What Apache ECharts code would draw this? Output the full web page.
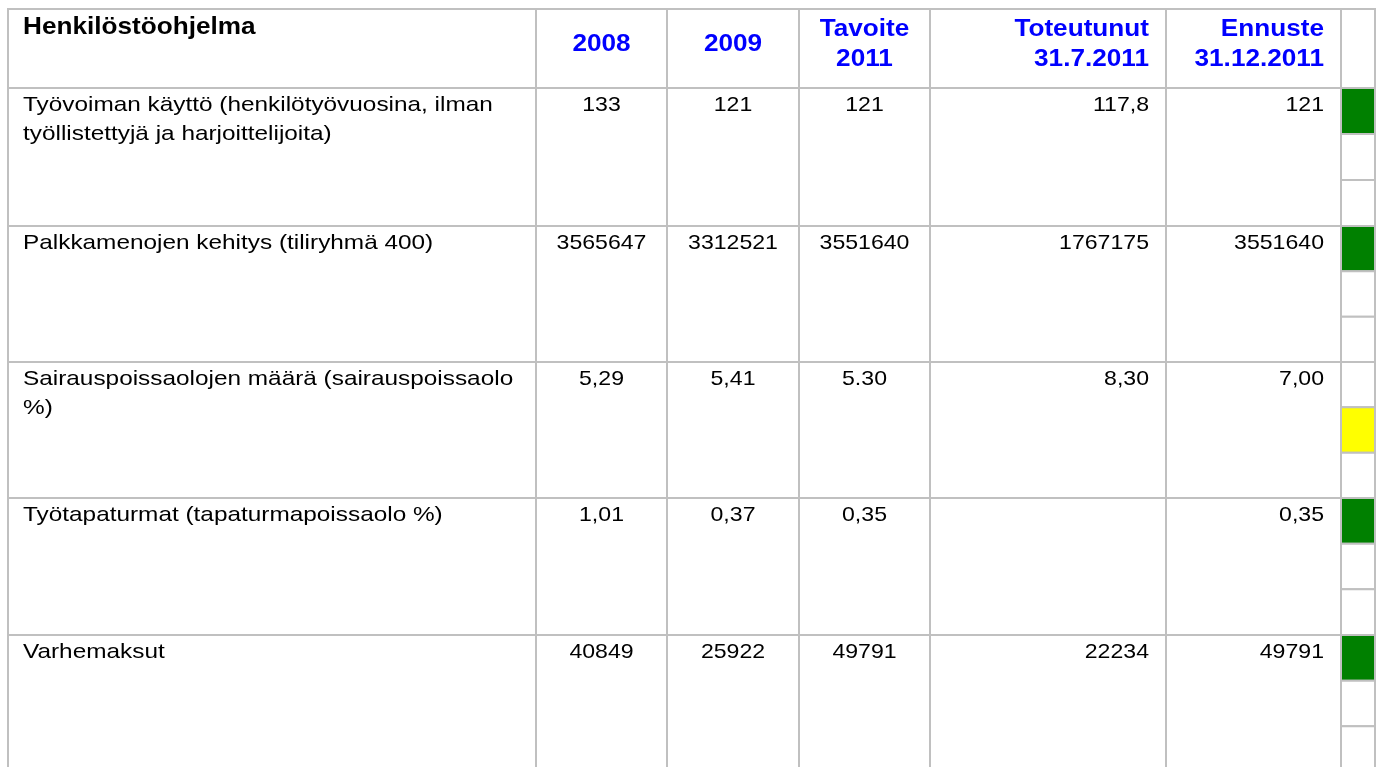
<!DOCTYPE html>
<html>
<head>
<meta charset="utf-8">
<title>Henkilöstöohjelma</title>
<script src="https://cdn.jsdelivr.net/npm/echarts@6.0.0/dist/echarts.min.js"></script>
<style>
  html, body { margin: 0; padding: 0; background: #fff; }
  #main { width: 1381px; height: 767px; }
</style>
</head>
<body>
<div id="main"></div>
<script>
// Taulukon sisältö
const headers = ['Henkilöstöohjelma', '2008', '2009', 'Tavoite\n2011', 'Toteutunut\n31.7.2011', 'Ennuste\n31.12.2011'];
const indicators = [
  'Työvoiman käyttö (henkilötyövuosina, ilman\ntyöllistettyjä ja harjoittelijoita)',
  'Palkkamenojen kehitys (tiliryhmä 400)',
  'Sairauspoissaolojen määrä (sairauspoissaolo\n%)',
  'Työtapaturmat (tapaturmapoissaolo %)',
  'Varhemaksut'
];
const values2008 = ['133', '3565647', '5,29', '1,01', '40849'];
const values2009 = ['121', '3312521', '5,41', '0,37', '25922'];
const target2011 = ['121', '3551640', '5.30', '0,35', '49791'];
const actual2011 = ['117,8', '1767175', '8,30', '', '22234'];
const forecast2011 = ['121', '3551640', '7,00', '0,35', '49791'];
// liikennevalo: 0 = vihreä, 1 = keltainen, 2 = punainen
const statusLevel = [0, 0, 1, 0, 0];
const statusColors = ['#008000', '#ffff00', '#ff0000'];

// Asettelu (gridin yksiköissä)
const colEdges = [0, 528, 659, 791, 922, 1158, 1333, 1367];
const rowEdges = [0, 79, 217, 353, 489, 626, 763];
const colAlign = ['left', 'center', 'center', 'center', 'right', 'right'];
const padLeft = 15, padRight = 17;
const lineColor = '#c0c0c0';
const fontFamily = '"Liberation Sans", Arial, sans-serif';

const columns = [indicators, values2008, values2009, target2011, actual2011, forecast2011];

function cellBox(api, c, r) {
  const p0 = api.coord([colEdges[c], rowEdges[r]]);
  const p1 = api.coord([colEdges[c + 1], rowEdges[r + 1]]);
  return { x: p0[0], y: p0[1], width: p1[0] - p0[0], height: p1[1] - p0[1] };
}

const cellData = [];
for (let r = 0; r < rowEdges.length - 1; r++) {
  for (let c = 0; c < colEdges.length - 1; c++) cellData.push([c, r]);
}

const statusData = [];
statusLevel.forEach(function (lvl, i) {
  for (let k = 0; k < 3; k++) statusData.push([i, k, lvl === k ? 1 : 0]);
});

const textData = [];
for (let r = 0; r < rowEdges.length - 1; r++) {
  for (let c = 0; c < columns.length; c++) textData.push([c, r]);
}

const chart = echarts.init(document.getElementById('main'));

const option = {
  animation: false,
  grid: { left: 8, top: 9, width: 1367, height: 763, outerBoundsMode: 'none' },
  xAxis: { type: 'value', min: 0, max: 1367, show: false },
  yAxis: { type: 'value', min: 0, max: 763, inverse: true, show: false },
  series: [
    {
      // solut
      type: 'custom',
      data: cellData,
      silent: true,
      renderItem: function (params, api) {
        const b = cellBox(api, api.value(0), api.value(1));
        return {
          type: 'rect',
          shape: b,
          style: { fill: '#fff', stroke: lineColor, lineWidth: 2 }
        };
      }
    },
    {
      // tilasarake, kolme osasolua per rivi
      type: 'custom',
      data: statusData,
      silent: true,
      renderItem: function (params, api) {
        const row = api.value(0), k = api.value(1);
        const b = cellBox(api, colEdges.length - 2, row + 1);
        const h = b.height / 3;
        return {
          type: 'rect',
          shape: { x: b.x, y: b.y + k * h, width: b.width, height: h },
          style: {
            fill: api.value(2) ? statusColors[statusLevel[row]] : '#fff',
            stroke: lineColor,
            lineWidth: 2
          }
        };
      }
    },
    {
      // tekstit
      type: 'custom',
      data: textData,
      silent: true,
      renderItem: function (params, api) {
        const c = api.value(0), r = api.value(1);
        const txt = r === 0 ? headers[c] : columns[c][r - 1];
        if (!txt) return null;
        const b = cellBox(api, c, r);
        const align = colAlign[c];
        let x = b.x + b.width / 2;
        if (align === 'left') x = b.x + padLeft;
        if (align === 'right') x = b.x + b.width - padRight;
        let y, vAlign, lh, size, weight, color, sx;
        if (r === 0) {
          size = 24; weight = 'bold'; lh = 30; sx = 1.09;
          color = c === 0 ? '#000' : '#0000ff';
          if (c === 0) { y = b.y + 3; vAlign = 'top'; }
          else { y = b.y + 35; vAlign = 'middle'; }
        } else {
          size = 21; weight = 'normal'; lh = 29; sx = c === 0 ? 1.16 : 1.1;
          color = '#000';
          y = b.y + 3; vAlign = 'top';
        }
        return {
          type: 'text',
          x: x,
          y: y,
          scaleX: sx,
          style: {
            text: txt,
            fill: color,
            fontSize: size,
            fontWeight: weight,
            fontFamily: fontFamily,
            lineHeight: lh,
            align: align,
            verticalAlign: vAlign
          }
        };
      }
    }
  ]
};

chart.setOption(option);

window.addEventListener('resize', function () {
  chart.resize();
});
</script>
</body>
</html>
